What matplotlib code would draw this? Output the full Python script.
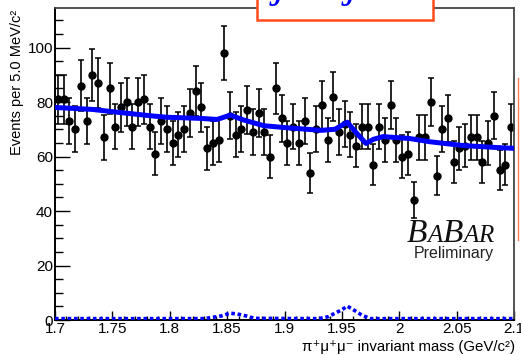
import numpy as np
import matplotlib
matplotlib.use("Agg")
import matplotlib.pyplot as plt
from matplotlib.patches import Rectangle
from matplotlib.lines import Line2D
from matplotlib.ticker import MultipleLocator

plt.rcParams['font.family'] = ['Liberation Sans', 'DejaVu Sans']

# events per 5 MeV bin, 1.70 - 2.10 GeV
bin_edges_lo = 1.70
bin_width = 0.005
counts = [81, 81, 73, 70, 86, 73, 90, 87, 67, 85,
          71, 78, 80, 71, 80, 81, 71, 61, 73, 70,
          65, 68, 70, 76, 84, 78, 63, 65, 66, 98,
          75, 68, 70, 77, 69, 76, 69, 60, 85, 74,
          65, 71, 65, 73, 54, 70, 79, 66, 82, 69,
          72, 68, 64, 71, 71, 57, 71, 66, 79, 66,
          60, 61, 44, 67, 67, 80, 53, 70, 74, 58,
          63, 64, 67, 67, 58, 65, 75, 55, 57, 71]

# total fit (solid blue)
fit_mass = [1.700, 1.732, 1.7555, 1.7845, 1.7976, 1.8266, 1.8412, 1.8528, 1.8644,
            1.882, 1.9007, 1.932, 1.944, 1.9547, 1.963, 1.971, 1.9774, 1.986,
            2.009, 2.027, 2.056, 2.085, 2.100]
fit_vals = [78.0, 77.3, 76.2, 74.9, 74.4, 74.0, 73.6, 75.2, 73.4,
            71.3, 70.6, 69.6, 70.0, 72.6, 68.5, 64.8, 66.3, 67.3,
            66.6, 65.4, 64.0, 63.3, 63.0]

# signal components (dashed blue)
sig_mass = [1.700, 1.830, 1.838, 1.845, 1.8525, 1.859, 1.8664, 1.874,
            1.930, 1.938, 1.944, 1.9498, 1.9547, 1.9614, 1.9673, 1.975, 2.100]
sig_vals = [0.5, 0.5, 1.0, 1.5, 2.5, 2.2, 1.5, 0.6,
            0.5, 1.2, 2.5, 3.7, 5.1, 3.4, 1.8, 0.5, 0.5]

xticks = [1.7, 1.75, 1.8, 1.85, 1.9, 1.95, 2.0, 2.05, 2.1]
xticklabels = ["1.7", "1.75", "1.8", "1.85", "1.9", "1.95", "2", "2.05", "2.1"]
yticks = [0, 20, 40, 60, 80, 100]

W, H = 521, 355
fig = plt.figure(figsize=(W / 100, H / 100), dpi=100)
ax = fig.add_axes([55 / W, 1 - 320 / H, (514 - 55) / W, (320 - 8) / H])

centers = bin_edges_lo + bin_width * (np.arange(len(counts)) + 0.5)
ax.errorbar(centers, counts, yerr=np.sqrt(counts), fmt='o', color='black',
            ms=5, capsize=2.4, elinewidth=1.2, capthick=1.1, zorder=2)
ax.plot(fit_mass, fit_vals, color='#0000ff', lw=3.6, zorder=3,
        solid_joinstyle='round')
ax.plot(sig_mass, sig_vals, color='#0000ff', lw=2.6, zorder=3,
        linestyle=(0, (1.0, 0.75)))

ax.set_xlim(1.7, 2.1)
ax.set_ylim(0, 114.5)
ax.set_xticks(xticks)
ax.set_xticklabels(xticklabels)
ax.set_yticks(yticks)
ax.xaxis.set_minor_locator(MultipleLocator(0.01))
ax.yaxis.set_minor_locator(MultipleLocator(5))
ax.tick_params(axis='both', which='both', direction='in', labelsize=11,
               colors='black', width=1.0)
ax.tick_params(axis='x', which='major', length=6.5, pad=1.2)
ax.tick_params(axis='x', which='minor', length=3)
ax.tick_params(axis='y', which='major', length=11, pad=1.5)
ax.tick_params(axis='y', which='minor', length=5.8)
for s in ['left', 'bottom']:
    ax.spines[s].set_linewidth(1.4)
    ax.spines[s].set_color('black')
for s in ['top', 'right']:
    ax.spines[s].set_linewidth(1.3)
    ax.spines[s].set_color('#444444')

fig.text(17 / W, 1 - 10 / H, "Events per 5.0 MeV/c²", rotation=90,
         ha='center', va='top', fontsize=10.5)
fig.text(515 / W, 1 - 347 / H, "π⁺μ⁺μ⁻ invariant mass (GeV/c²)",
         ha='right', va='center', fontsize=10.8)

# BaBar logo, letters placed one after the other
renderer = fig.canvas.get_renderer()
xp = 407
for ch, sz in [("B", 24), ("A", 18), ("B", 24), ("A", 18), ("R", 18)]:
    t = fig.text(xp / W, 1 - 242 / H, ch, fontsize=sz, family='Liberation Serif',
                 style='italic', ha='left', va='baseline', color='#111111')
    xp = t.get_window_extent(renderer).x1
fig.text(414 / W, 1 - 258 / H, "Preliminary", fontsize=11.5, ha='left',
         va='baseline', color='#222222')

# red title box cut by the top edge
fig.add_artist(Rectangle((257 / W, 1 - 20 / H), (433 - 257) / W, 40 / H,
                         transform=fig.transFigure, fc='white', ec='#ff4a1c',
                         lw=1.8, zorder=5))
for xp in [274, 346]:
    fig.text(xp / W, 1.0 + 3 / H, "j", fontsize=32, family='Liberation Serif',
             style='italic', color='#0000ff', ha='left', va='baseline', zorder=6)
fig.add_artist(Line2D([518 / W, 518 / W], [1 - 78 / H, 1 - 240 / H],
                      transform=fig.transFigure, color='#ff7a50', lw=1.0))

fig.savefig("out.png", dpi=100)
